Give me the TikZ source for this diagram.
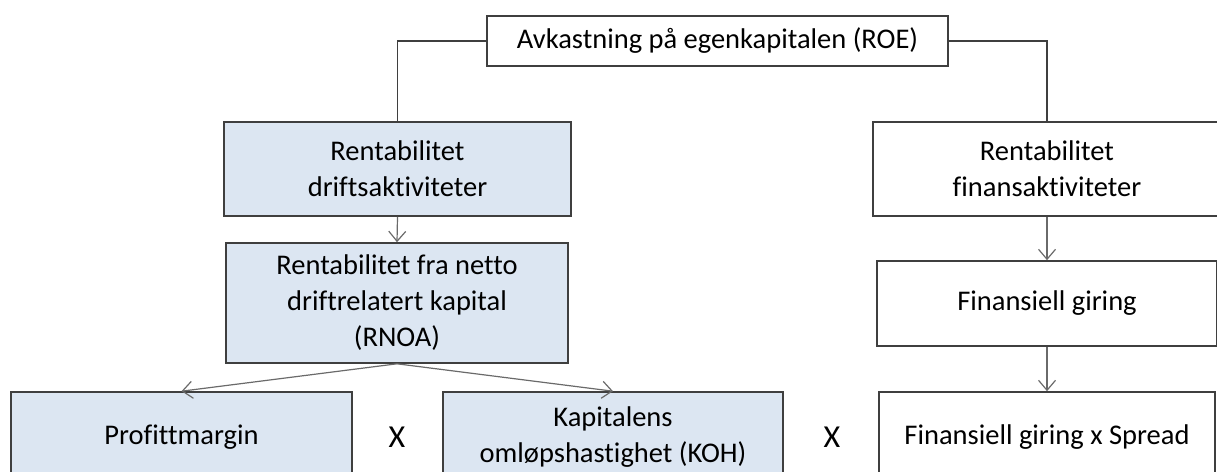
\documentclass[tikz,border=0pt]{standalone}
\usepackage{fontspec}
\setmainfont{Carlito}[Ligatures=CommonOff]
\usetikzlibrary{arrows.meta}
\definecolor{boxfill}{HTML}{DCE6F2}
\definecolor{boxline}{HTML}{3F3F3F}
\definecolor{linkgrey}{HTML}{6A6A6A}
\begin{document}
\begin{tikzpicture}[x=1pt,y=-1pt,
  box/.style={draw=boxline, line width=1.6pt, inner sep=0pt, align=center,
    font=\fontsize{28.5}{36}\selectfont, text=black},
  bluebox/.style={box, fill=boxfill},
  tree/.style={draw=boxline, line width=1.1pt},
  arr/.style={draw=linkgrey, line width=1.2pt,
    -{Straight Barb[length=10pt,width=17pt,line width=1.2pt]}},
  times/.style={font=\fontsize{32}{36}\selectfont, text=black}]
\useasboundingbox (0,0) rectangle (1217,471);
\clip (0,0) rectangle (1217,471);

% top level
\node[box, minimum width=461pt, minimum height=50pt] (roe) at (717.5,41)
  {Avkastning på egenkapitalen (ROE)};

% operating side
\node[bluebox, minimum width=347pt, minimum height=94pt] (drift) at (397.5,169)
  {Rentabilitet\\driftsaktiviteter};
\node[bluebox, minimum width=342pt, minimum height=120pt] (rnoa) at (397,303)
  {Rentabilitet fra netto\\driftrelatert kapital\\(RNOA)};
\node[bluebox, minimum width=341pt, minimum height=90pt] (pm) at (181.5,437)
  {Profittmargin};
\node[bluebox, minimum width=340pt, minimum height=90pt] (koh) at (613,437)
  {Kapitalens\\omløpshastighet (KOH)};

% financing side
\node[box, minimum width=348pt, minimum height=94pt] (finans) at (1047,169)
  {Rentabilitet\\finansaktiviteter};
\node[box, minimum width=340pt, minimum height=85pt] (giring) at (1047,303.5)
  {Finansiell giring};
\node[box, minimum width=336pt, minimum height=90pt] (spread) at (1047,437)
  {Finansiell giring x Spread};

% multiplication signs
\node[times] (x1) at (397,437) {X};
\node[times] (x2) at (832,437) {X};

% connectors
\draw[tree] (roe.west) -| (drift.north);
\draw[tree] (roe.east) -| (finans.north);
\draw[arr] (drift.south) -- (rnoa.north);
\draw[arr] (rnoa.south) -- (pm.north);
\draw[arr] (rnoa.south) -- (koh.north);
\draw[arr] (finans.south) -- (giring.north);
\draw[arr] (giring.south) -- (spread.north);
\end{tikzpicture}
\end{document}
